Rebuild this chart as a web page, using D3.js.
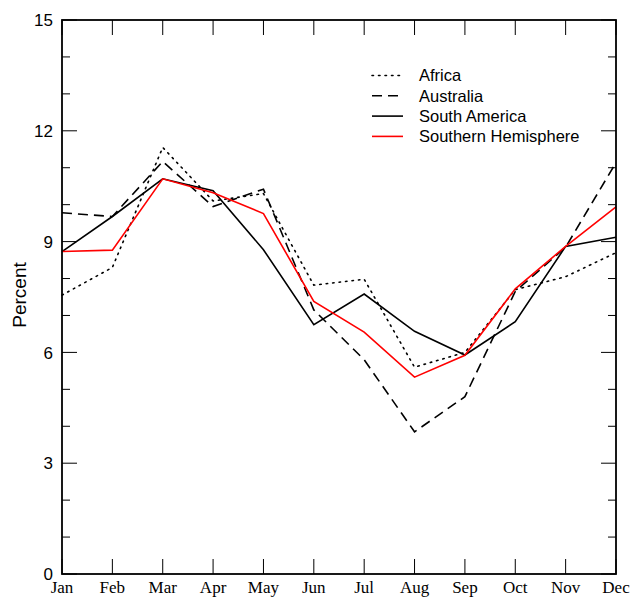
<!DOCTYPE html>
<html>
<head>
<meta charset="utf-8">
<script src="https://cdn.jsdelivr.net/npm/d3@7"></script>
<style>
  body { margin: 0; background: #fff; }
</style>
</head>
<body>
<div id="chart-area"></div>
<script>
const months = ['Jan', 'Feb', 'Mar', 'Apr', 'May', 'Jun', 'Jul', 'Aug', 'Sep', 'Oct', 'Nov', 'Dec'];

const africa = [7.55, 8.3, 11.55, 10.1, 10.3, 7.82, 7.98, 5.6, 6.0, 7.7, 8.05, 8.7];
const australia = [9.78, 9.68, 11.17, 9.95, 10.42, 7.15, 5.8, 3.85, 4.8, 7.65, 8.85, 11.14];
const southAmerica = [8.73, 9.68, 10.7, 10.38, 8.78, 6.75, 7.58, 6.57, 5.93, 6.83, 8.87, 9.12];
const southernHemisphere = [8.73, 8.77, 10.7, 10.32, 9.76, 7.38, 6.55, 5.33, 5.92, 7.72, 8.87, 9.94];

const seriesNames = ['Africa', 'Australia', 'South America', 'Southern Hemisphere'];
const yTicks = [0, 3, 6, 9, 12, 15];

const series = [
    {name: seriesNames[0], values: africa, color: '#000', dash: '1.5,5', cap: 'round'},
    {name: seriesNames[1], values: australia, color: '#000', dash: '10,6', cap: 'butt'},
    {name: seriesNames[2], values: southAmerica, color: '#000', dash: null, cap: 'butt'},
    {name: seriesNames[3], values: southernHemisphere, color: '#ff0000', dash: null, cap: 'butt'}
];

const margin = {left: 62, right: 16, top: 20, bottom: 23};
const width = 632 - margin.left - margin.right,
    height = 597 - margin.top - margin.bottom;

const svg = d3.select('#chart-area')
    .append('svg')
    .attr('width', 632)
    .attr('height', 597);

const g = svg.append('g')
    .attr('transform', 'translate(' + margin.left + ', ' + margin.top + ')');

const xScale = d3.scalePoint()
    .domain(months)
    .range([0, width]);

const yScale = d3.scaleLinear()
    .domain([0, 15])
    .range([height, 0]);

// inward ticks on all four sides
const minorTicks = d3.range(0, 16);

g.append('g').selectAll('line')
    .data(minorTicks)
    .enter().append('line')
    .attr('x1', 0)
    .attr('x2', d => d % 3 === 0 ? 15 : 8)
    .attr('y1', d => yScale(d))
    .attr('y2', d => yScale(d))
    .attr('stroke', '#000')
    .attr('stroke-width', 1);

g.append('g').selectAll('line')
    .data(minorTicks)
    .enter().append('line')
    .attr('x1', width)
    .attr('x2', d => width - (d % 3 === 0 ? 15 : 8))
    .attr('y1', d => yScale(d))
    .attr('y2', d => yScale(d))
    .attr('stroke', '#000')
    .attr('stroke-width', 1);

g.append('g').selectAll('line')
    .data(months)
    .enter().append('line')
    .attr('x1', d => xScale(d))
    .attr('x2', d => xScale(d))
    .attr('y1', height)
    .attr('y2', height - 15)
    .attr('stroke', '#000')
    .attr('stroke-width', 1);

g.append('g').selectAll('line')
    .data(months)
    .enter().append('line')
    .attr('x1', d => xScale(d))
    .attr('x2', d => xScale(d))
    .attr('y1', 0)
    .attr('y2', 15)
    .attr('stroke', '#000')
    .attr('stroke-width', 1);

// tick labels
g.append('g').selectAll('text')
    .data(yTicks)
    .enter().append('text')
    .text(d => d)
    .attr('x', -9)
    .attr('y', d => yScale(d))
    .attr('dy', '0.36em')
    .attr('text-anchor', 'end')
    .attr('font-family', 'Liberation Sans, Arial, sans-serif')
    .attr('font-size', '17px');

g.append('g').selectAll('text')
    .data(months)
    .enter().append('text')
    .text(d => d)
    .attr('x', d => xScale(d))
    .attr('y', height + 19)
    .attr('text-anchor', 'middle')
    .attr('font-family', 'Liberation Serif, Times New Roman, serif')
    .attr('font-size', '17px');

g.append('text')
    .text('Percent')
    .attr('x', -height / 2 + 2)
    .attr('y', -36)
    .attr('text-anchor', 'middle')
    .attr('transform', 'rotate(-90)')
    .attr('font-family', 'Liberation Sans, Arial, sans-serif')
    .attr('font-size', '19px');

// lines
const line = d3.line()
    .x((d, i) => xScale(months[i]))
    .y(d => yScale(d));

g.append('g').selectAll('path')
    .data(series)
    .enter().append('path')
    .attr('d', d => line(d.values))
    .attr('fill', 'none')
    .attr('stroke', d => d.color)
    .attr('stroke-width', 1.6)
    .attr('stroke-linecap', d => d.cap)
    .attr('stroke-dasharray', d => d.dash);

// frame
g.append('rect')
    .attr('x', 0)
    .attr('y', 0)
    .attr('width', width)
    .attr('height', height)
    .attr('fill', 'none')
    .attr('stroke', '#000')
    .attr('stroke-width', 1.8);

// legend
const legend = g.append('g')
    .attr('transform', 'translate(310, 55.5)');

const rows = legend.selectAll('g')
    .data(series)
    .enter().append('g')
    .attr('transform', (d, i) => 'translate(0, ' + i * 20.3 + ')');

rows.append('line')
    .attr('x1', 0)
    .attr('x2', 31)
    .attr('y1', 0)
    .attr('y2', 0)
    .attr('stroke', d => d.color)
    .attr('stroke-width', 1.6)
    .attr('stroke-linecap', d => d.cap)
    .attr('stroke-dasharray', d => d.dash);

rows.append('text')
    .text(d => d.name)
    .attr('x', 47)
    .attr('y', 0)
    .attr('dy', '0.35em')
    .attr('font-family', 'Liberation Sans, Arial, sans-serif')
    .attr('font-size', '16.5px');
</script>
</body>
</html>
